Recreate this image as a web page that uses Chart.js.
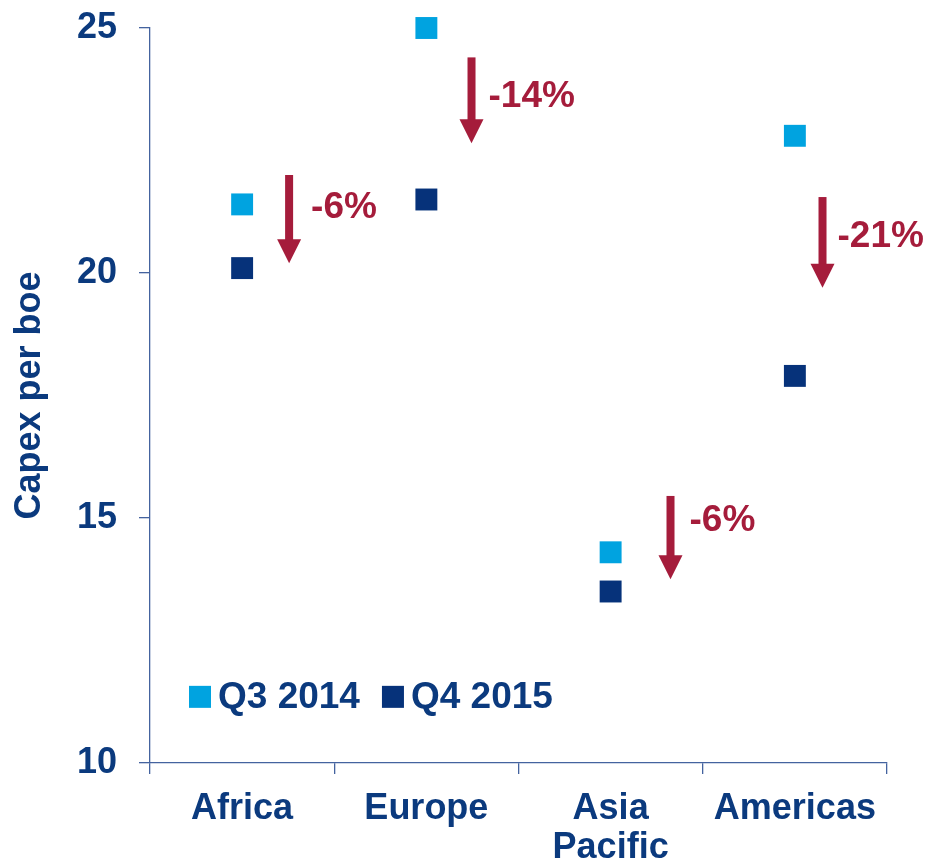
<!DOCTYPE html>
<html>
<head>
<meta charset="utf-8">
<script src="https://cdn.jsdelivr.net/npm/chart.js@4/dist/chart.umd.min.js"></script>
<style>
  html, body { margin: 0; padding: 0; background: #fff; }
  canvas { display: block; }
</style>
</head>
<body>
<canvas id="c" width="930" height="864"></canvas>
<script>
// data
const categories = ['Africa', 'Europe', ['Asia', 'Pacific'], 'Americas'];
const q3_2014 = [21.4, 25.0, 14.3, 22.8];
const q4_2015 = [20.1, 21.5, 13.5, 17.9];
const yTicks = [10, 15, 20, 25];
const changeLabels = ['-6%', '-14%', '-6%', '-21%'];

// arrow annotations (category offset, value from/to, label value, label gap px)
const arrowDx   = [0.255, 0.245, 0.325, 0.15];
const arrowFrom = [22.0, 24.4, 15.45, 21.55];
const arrowTo   = [20.2, 22.65, 13.75, 19.7];
const labelAt   = [21.33, 23.6, 14.95, 20.73];
const labelGap  = [22, 17, 19, 15];

const C = {
  navy:  '#0b3a7e',
  dark:  '#06327a',
  light: '#00a3e0',
  red:   '#a51c3b',
  axis:  '#44639f',
};
const FONT = "'Liberation Sans', Arial, sans-serif";

const arrows = {
  id: 'arrows',
  afterDatasetsDraw(chart) {
    const { ctx, scales: { x, y } } = chart;
    ctx.save();
    ctx.fillStyle = C.red;
    ctx.font = `bold 37px ${FONT}`;
    ctx.textBaseline = 'middle';
    ctx.textAlign = 'left';
    changeLabels.forEach((txt, i) => {
      const px = x.getPixelForValue(i + arrowDx[i]);
      const y0 = y.getPixelForValue(arrowFrom[i]);
      const y1 = y.getPixelForValue(arrowTo[i]);
      const head = 24, hw = 12, sw = 4;
      ctx.fillRect(px - sw, y0, sw * 2, y1 - y0 - head + 1);
      ctx.beginPath();
      ctx.moveTo(px - hw, y1 - head);
      ctx.lineTo(px + hw, y1 - head);
      ctx.lineTo(px, y1);
      ctx.closePath();
      ctx.fill();
      ctx.fillText(txt, px + labelGap[i], y.getPixelForValue(labelAt[i]));
    });
    ctx.restore();
  }
};

const innerLegend = {
  id: 'innerLegend',
  afterDatasetsDraw(chart) {
    const { ctx, chartArea, scales: { y } } = chart;
    ctx.save();
    ctx.font = `bold 37px ${FONT}`;
    ctx.textBaseline = 'middle';
    ctx.textAlign = 'left';
    const cy = y.getPixelForValue(11.35);
    let lx = chartArea.left + 39;
    chart.data.datasets.forEach(ds => {
      ctx.fillStyle = ds.backgroundColor;
      ctx.fillRect(lx, cy - 11, 22, 22);
      ctx.fillStyle = C.navy;
      ctx.fillText(ds.label, lx + 29, cy + 1);
      lx += 29 + ctx.measureText(ds.label).width + 22;
    });
    ctx.restore();
  }
};

new Chart(document.getElementById('c'), {
  type: 'line',
  data: {
    labels: categories,
    datasets: [
      { label: 'Q3 2014', data: q3_2014, backgroundColor: C.light },
      { label: 'Q4 2015', data: q4_2015, backgroundColor: C.dark },
    ].map(d => ({
      ...d,
      showLine: false,
      clip: false,
      pointStyle: 'rect',
      pointRadius: 15.5,
      pointHoverRadius: 15.5,
      pointBorderWidth: 0,
      borderColor: d.backgroundColor,
    })),
  },
  options: {
    responsive: false,
    animation: false,
    layout: { padding: { top: 28, right: 43, left: 0, bottom: 0 } },
    plugins: { legend: { display: false }, tooltip: { enabled: false } },
    scales: {
      x: {
        offset: true,
        grid: { offset: true, drawOnChartArea: false, drawTicks: true, tickLength: 11, color: C.axis, lineWidth: 1.3 },
        border: { display: true, color: C.axis, width: 1.3 },
        ticks: { color: C.navy, font: { family: FONT, size: 36, weight: 'bold', lineHeight: 1.1 }, padding: 15, maxRotation: 0 },
        afterFit(s) { s.height = 101; s.paddingLeft = 0; s.paddingRight = 0; },
      },
      y: {
        min: 10, max: 25,
        afterBuildTicks(s) { s.ticks = yTicks.map(v => ({ value: v })); },
        grid: { drawOnChartArea: false, drawTicks: true, tickLength: 11, color: C.axis, lineWidth: 1.3 },
        border: { display: true, color: C.axis, width: 1.3 },
        ticks: { color: C.navy, font: { family: FONT, size: 36, weight: 'bold' }, padding: 22 },
        title: { display: true, text: 'Capex per boe', color: C.navy, font: { family: FONT, size: 36, weight: 'bold' }, padding: { top: 8, bottom: 0 } },
        afterFit(s) { s.width = 150; s.paddingTop = 0; s.paddingBottom = 0; },
      },
    },
  },
  plugins: [arrows, innerLegend],
});
</script>
</body>
</html>
